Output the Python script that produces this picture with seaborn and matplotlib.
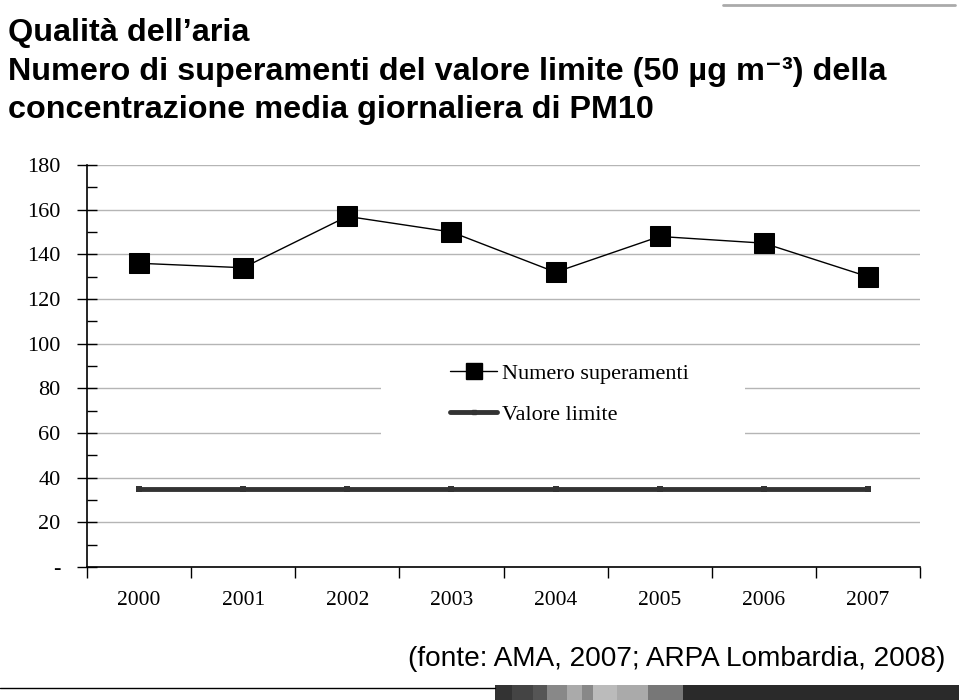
import matplotlib
matplotlib.use("Agg")
import matplotlib.pyplot as plt
import matplotlib.patches as mpatches
from matplotlib.lines import Line2D
import seaborn as sns
import pandas as pd
import numpy as np

years = ["2000", "2001", "2002", "2003", "2004", "2005", "2006", "2007"]
superamenti = [136, 134, 157, 150, 132, 148, 145, 130]
valore_limite = [35, 35, 35, 35, 35, 35, 35, 35]
y_ticks = [0, 20, 40, 60, 80, 100, 120, 140, 160, 180]
y_ticklabels = ["-", "20", "40", "60", "80", "100", "120", "140", "160", "180"]

sns.set_theme(style="white")
plt.rcParams["font.family"] = ["Liberation Serif", "DejaVu Serif"]
plt.rcParams["text.color"] = "black"
plt.rcParams["xtick.color"] = "black"
plt.rcParams["ytick.color"] = "black"
plt.rcParams["xtick.labelcolor"] = "black"
plt.rcParams["ytick.labelcolor"] = "black"

pos = np.arange(len(years))
df = pd.DataFrame({
    "pos": np.concatenate([pos, pos]),
    "val": superamenti + valore_limite,
    "serie": ["Numero superamenti"] * len(years) + ["Valore limite"] * len(years),
})

fig = plt.figure(figsize=(9.59, 7.0), dpi=100)
ax = fig.add_axes([87 / 959, 1 - 567 / 700, 833 / 959, 402 / 700])

d1 = df[df.serie == "Numero superamenti"]
d2 = df[df.serie == "Valore limite"]
sns.lineplot(data=d2, x="pos", y="val", ax=ax, color="#333333", linewidth=3.5,
             marker="s", markersize=4, markeredgewidth=0, zorder=3, legend=False)
sns.lineplot(data=d1, x="pos", y="val", ax=ax, color="black", linewidth=1.0,
             marker="s", markersize=14, markeredgecolor="black", markerfacecolor="black",
             zorder=4, legend=False)

ax.set_xlim(-0.5, len(years) - 0.5)
ax.set_ylim(0, 180)
ax.set_xlabel("")
ax.set_ylabel("")

ax.set_yticks(y_ticks)
ax.set_yticklabels(y_ticklabels, fontsize=16)
ax.set_yticks(np.arange(10, 180, 20), minor=True)
ax.set_xticks(pos)
ax.set_xticklabels(years, fontsize=15.5)
ax.set_xticks(np.arange(-0.5, len(years), 1.0), minor=True)

ax.tick_params(axis="y", which="major", direction="inout", length=14, width=1, color="black", pad=12, left=True)
ax.tick_params(axis="y", which="minor", direction="in", length=7, width=1, color="black", left=True)
ax.tick_params(axis="x", which="major", length=0, pad=17)
ax.tick_params(axis="x", which="minor", direction="out", length=8, width=1, color="black", bottom=True)

ax.grid(axis="y", which="major", color="#b5b5b5", linewidth=1.0, zorder=0)
ax.grid(axis="x", visible=False)
ax.set_axisbelow(True)
for s in ["top", "right"]:
    ax.spines[s].set_visible(False)
for s in ["left", "bottom"]:
    ax.spines[s].set_color("black")
    ax.spines[s].set_linewidth(1.2)

# white area behind the legend
ax.add_patch(mpatches.Rectangle((0.353, 0.316), 0.437, 0.224, transform=ax.transAxes,
                                facecolor="white", edgecolor="none", zorder=1))
handles = [
    Line2D([], [], color="black", linewidth=1.0, marker="s", markersize=11),
    Line2D([], [], color="#333333", linewidth=3.5, marker="s", markersize=3),
]
ax.legend(handles, ["Numero superamenti", "Valore limite"], loc="upper left",
          bbox_to_anchor=(0.423, 0.535), frameon=False, fontsize=16,
          handlelength=2.1, handletextpad=0.2, labelspacing=0.95, borderpad=0)

sans = ["Liberation Sans Narrow", "Liberation Sans", "DejaVu Sans"]
fig.text(8 / 959, 1 - 41 / 700, "Qualità dell’aria", fontsize=23.3, fontweight="bold",
         family=sans, va="baseline", color="black")
fig.text(8 / 959, 1 - 80 / 700, "Numero di superamenti del valore limite (50 µg m⁻³) della",
         fontsize=23.3, fontweight="bold", family=sans, va="baseline", color="black")
fig.text(8 / 959, 1 - 118 / 700, "concentrazione media giornaliera di PM10",
         fontsize=23.3, fontweight="bold", family=sans, va="baseline", color="black")
fig.text(945 / 959, 1 - 666 / 700, "(fonte: AMA, 2007; ARPA Lombardia, 2008)",
         fontsize=20.2, family=["Liberation Sans", "DejaVu Sans"], ha="right", va="baseline",
         color="black")

# decorative lines / footer blocks
fig.add_artist(Line2D([723 / 959, 955 / 959], [1 - 5 / 700, 1 - 5 / 700],
                      transform=fig.transFigure, color="#aaaaaa", linewidth=2))
fig.add_artist(Line2D([0, 495 / 959], [1 - 688 / 700, 1 - 688 / 700],
                      transform=fig.transFigure, color="black", linewidth=1))
blocks = [(495, 512, "#333333"), (512, 533, "#444444"), (533, 547, "#555555"),
          (547, 567, "#888888"), (567, 582, "#aaaaaa"), (582, 593, "#888888"),
          (593, 617, "#bbbbbb"), (617, 633, "#aaaaaa"), (633, 648, "#aaaaaa"),
          (648, 683, "#777777"), (683, 959, "#2a2a2a")]
for x0, x1, c in blocks:
    fig.add_artist(mpatches.Rectangle((x0 / 959, 0), (x1 - x0) / 959, 15 / 700,
                                      transform=fig.transFigure, facecolor=c, edgecolor="none"))

fig.savefig("out.png", dpi=100)
